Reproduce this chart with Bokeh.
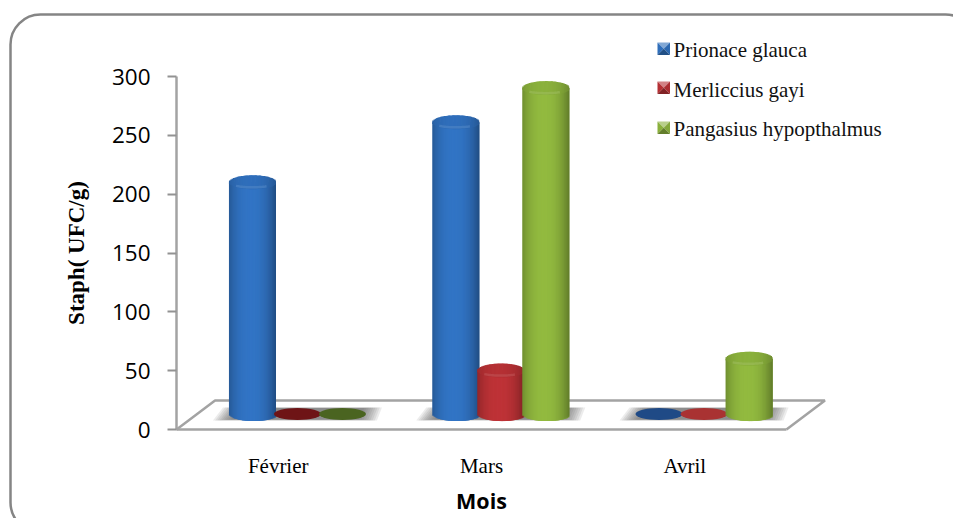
import numpy as np
from bokeh.core.properties import value
from bokeh.embed import file_html
from bokeh.models import BoxAnnotation, FixedTicker, LinearAxis, Range1d
from bokeh.plotting import figure
from bokeh.resources import INLINE

# Staph counts per month and species
months = ["Février", "Mars", "Avril"]
species = ["Prionace glauca", "Merliccius gayi", "Pangasius hypopthalmus"]
prionace_glauca = [197, 248, 0]
merliccius_gayi = [0, 37, 0]
pangasius_hypopthalmus = [0, 277, 47]
y_ticks = [0, 50, 100, 150, 200, 250, 300]

SERIES = [prionace_glauca, merliccius_gayi, pangasius_hypopthalmus]
BASE_COLORS = [(47, 110, 186), (180, 48, 52), (138, 176, 60)]
# flat discs standing in for empty cells, darker in the first month
DISC_COLORS = [["#1f4a86", "#6e1416", "#4a6420"],
               ["#1f4a86", "#a93232", "#4a6420"],
               ["#1f4a86", "#a93232", "#4a6420"]]

W, H = 953, 518
PX_PER_MONTH = 203.3
PX_PER_UNIT = 353 / 300
X0, Y0 = 277.7, 429

x_range = Range1d(-X0 / PX_PER_MONTH, (W - X0) / PX_PER_MONTH)
y_range = Range1d((Y0 - H) / PX_PER_UNIT, Y0 / PX_PER_UNIT)

p = figure(width=W, height=H, x_range=x_range, y_range=y_range,
           output_backend="svg", toolbar_location=None, x_axis_type=None,
           y_axis_type=None, min_border=0, outline_line_color=None,
           background_fill_color="white", border_fill_color="white")
p.grid.visible = False
p.extra_x_ranges["px"] = Range1d(0, W)
p.extra_y_ranges["px"] = Range1d(H, 0)

# rounded panel that runs off the right and bottom of the page
p.add_layout(BoxAnnotation(left=10, right=975, top=14, bottom=532,
                           left_units="data", right_units="data",
                           top_units="data", bottom_units="data",
                           x_range_name="px", y_range_name="px",
                           fill_alpha=0, line_color="#858585", line_alpha=1,
                           line_width=2.5, border_radius=30, level="underlay"))

AXIS_GRAY = "#a3a3a3"
FONT_SERIF = "Liberation Serif"

y_axis = LinearAxis(fixed_location=-0.5, ticker=FixedTicker(ticks=y_ticks),
                    bounds=(0, 300), axis_line_color=AXIS_GRAY, axis_line_width=2.5,
                    major_tick_line_color="#929292", major_tick_line_width=2,
                    major_tick_in=0, major_tick_out=9, minor_tick_line_color=None,
                    major_label_standoff=17, major_label_text_font="Open Sans",
                    major_label_text_font_size="22.5px", major_label_text_color="black",
                    axis_label="Staph( UFC/g)", axis_label_text_font=FONT_SERIF,
                    axis_label_text_font_style="bold", axis_label_text_font_size="23px",
                    axis_label_text_color="black", axis_label_standoff=20)
p.add_layout(y_axis, "left")

x_axis = LinearAxis(fixed_location=0, ticker=FixedTicker(ticks=[0, 1, 2]),
                    bounds=(-0.5, 2.5), axis_line_color=AXIS_GRAY, axis_line_width=2.5,
                    major_tick_line_color=None, minor_tick_line_color=None,
                    major_tick_in=0, major_tick_out=0,
                    major_label_overrides={i: m for i, m in enumerate(months)},
                    major_label_standoff=24, major_label_text_font=FONT_SERIF,
                    major_label_text_font_size="21px", major_label_text_color="black",
                    axis_label="Mois", axis_label_text_font="Open Sans",
                    axis_label_text_font_style="bold", axis_label_text_font_size="21.5px",
                    axis_label_text_color="black", axis_label_standoff=5)
p.add_layout(x_axis, "below")

# floor of the 3D box
DEPTH_X = 38.5 / PX_PER_MONTH
DEPTH_Y = 29 / PX_PER_UNIT
p.line([-0.5, -0.5 + DEPTH_X, 2.5 + DEPTH_X, 2.5], [0, DEPTH_Y, DEPTH_Y, 0],
       line_color=AXIS_GRAY, line_width=2.5)

BAR_STEP = 45 / PX_PER_MONTH
BAR_W = 47 / PX_PER_MONTH
CAP_H = 14 / PX_PER_UNIT
BASE_Y = DEPTH_Y / 2 + 0.8
N_STRIPS = 36


def shade(rgb, u):
    """Colour of a vertical strip at position u in [-1, 1] across a cylinder."""
    f = 1.06 - 0.36 * (abs(u + 0.08) / 1.08) ** 2.4
    return "#%02x%02x%02x" % tuple(int(min(255, c * f)) for c in rgb)


def lighter(rgb, k):
    return "#%02x%02x%02x" % tuple(int(c + (255 - c) * k) for c in rgb)


def darker(rgb, k):
    return "#%02x%02x%02x" % tuple(int(c * k) for c in rgb)


# soft shadows behind each month's group of cylinders
for m in range(len(months)):
    xc = m + DEPTH_X / 2
    for layer in range(9):
        inset = layer * 2.2 / PX_PER_MONTH
        half = BAR_STEP + BAR_W / 2 + 16 / PX_PER_MONTH - inset
        b = BASE_Y - 6.5 / PX_PER_UNIT + layer * 0.12
        t = BASE_Y + 6.5 / PX_PER_UNIT - layer * 0.04
        skew = 5 / PX_PER_MONTH
        p.patch([xc - half, xc + half - skew, xc + half, xc - half + 2 * skew],
                [b, b, t, t], fill_color="#555555", fill_alpha=0.11, line_color=None)

# cylinders, one column of strips per shade, painted left to right
edges = np.linspace(-1, 1, N_STRIPS + 1)
centres = (edges[:-1] + edges[1:]) / 2
for m in range(len(months)):
    for s, series in enumerate(SERIES):
        xc = m + DEPTH_X / 2 + (s - 1) * BAR_STEP
        val = series[m]
        if val == 0:
            p.ellipse([xc], [BASE_Y], width=BAR_W, height=CAP_H * 0.85,
                      fill_color=DISC_COLORS[m][s], line_color=None)
            continue
        rgb = BASE_COLORS[s]
        half_w = BAR_W / 2
        top = BASE_Y + val
        curve = np.sqrt(1 - centres ** 2)
        lefts = xc + edges[:-1] * half_w
        # each strip runs under its right neighbour so no seam shows
        rights = np.minimum(xc + edges[1:] * half_w + 2 * (BAR_W / N_STRIPS), xc + half_w)
        p.quad(left=lefts, right=rights, top=top,
               bottom=BASE_Y - curve * CAP_H / 2,
               fill_color=[shade(rgb, u) for u in centres], line_color=None)
        # top face, slightly darker than the wall
        cap = tuple(c * 0.95 for c in rgb)
        cap_rights = xc + edges[1:] * half_w
        cap_rights = np.minimum(cap_rights + 0.6 * (BAR_W / N_STRIPS), xc + half_w)
        p.quad(left=lefts, right=cap_rights,
               top=top + curve * CAP_H / 2, bottom=top - curve * CAP_H / 2,
               fill_color=[shade(cap, u * 0.8) for u in centres], line_color=None)
        # bevel catching the light along the front of the top face
        t = np.linspace(-0.7, 0.6, 24)
        p.line(xc + t * half_w, top - np.sqrt(1 - t ** 2) * CAP_H * 0.36,
               line_color=lighter(rgb, 0.18), line_width=2.5, line_alpha=0.55)

# legend: bevelled keys with their labels
KEY_TOPS = [42, 81, 121]
KEY_SIZE = 12.5
LABEL_Y = [49, 89, 128]
KEY_X = 657
for s, name in enumerate(species):
    rgb = BASE_COLORS[s]
    k0, k1 = KEY_X, KEY_X + KEY_SIZE
    t0, t1 = KEY_TOPS[s], KEY_TOPS[s] + KEY_SIZE
    cx, cy = (k0 + k1) / 2, t0 + KEY_SIZE * 0.5
    faces = [([k0, k1, cx], [t0, t0, cy], lighter(rgb, 0.4)),
             ([k0, cx, k0], [t0, cy, t1], darker(rgb, 1.0)),
             ([k1, cx, k1], [t0, cy, t1], darker(rgb, 0.95)),
             ([k0, k1, cx], [t1, t1, cy], darker(rgb, 0.72))]
    for xs, ys, col in faces:
        p.patch(xs, ys, fill_color=col, line_color=None,
                x_range_name="px", y_range_name="px")
    p.text([673], [LABEL_Y[s]], text=[name], text_font=value(FONT_SERIF),
           text_font_size="21px", text_color="#111111", text_baseline="middle",
           text_align="left", x_range_name="px", y_range_name="px")

open("out.html", "w").write(file_html(p, INLINE))
